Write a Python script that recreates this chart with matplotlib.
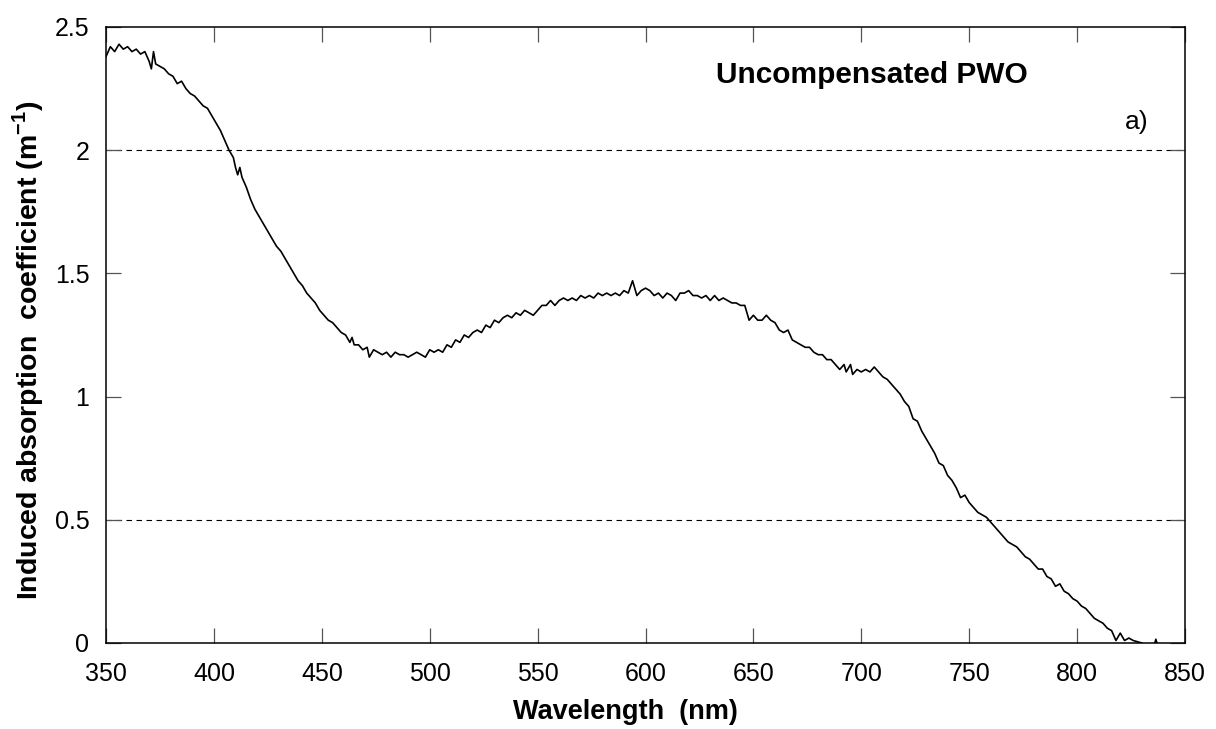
import matplotlib
matplotlib.use("Agg")
import matplotlib.pyplot as plt

# wavelength (nm) and induced absorption coefficient (1/m)
wavelength = [
    350, 352, 354, 356, 358, 360, 362, 364, 366, 368, 370, 371, 372, 373, 375, 377, 379,
    381, 383, 385, 387, 389, 391, 393, 395, 397, 399, 401, 403, 405, 407, 409, 410, 411,
    412, 413, 415, 417, 419, 421, 423, 425, 427, 429, 431, 433, 435, 437, 439, 441, 443,
    445, 447, 449, 451, 453, 455, 457, 459, 461, 463, 464, 465, 467, 469, 471, 472, 474,
    476, 478, 480, 482, 484, 486, 488, 490, 492, 494, 496, 498, 500, 502, 504, 506, 508,
    510, 512, 514, 516, 518, 520, 522, 524, 526, 528, 530, 532, 534, 536, 538, 540, 542,
    544, 546, 548, 550, 552, 554, 556, 558, 560, 562, 564, 566, 568, 570, 572, 574, 576,
    578, 580, 582, 584, 586, 588, 590, 592, 594, 596, 598, 600, 602, 604, 606, 608, 610,
    612, 614, 616, 618, 620, 622, 624, 626, 628, 630, 632, 634, 636, 638, 640, 642, 644,
    646, 648, 650, 652, 654, 656, 658, 660, 662, 664, 666, 668, 670, 672, 674, 676, 678,
    680, 682, 684, 686, 688, 690, 692, 693, 695, 696, 698, 700, 702, 704, 706, 708, 710,
    712, 714, 716, 718, 720, 722, 724, 726, 728, 730, 732, 734, 736, 738, 740, 742, 744,
    746, 748, 750, 752, 754, 756, 758, 760, 762, 764, 766, 768, 770, 772, 774, 776, 778,
    780, 782, 784, 786, 788, 790, 792, 794, 796, 798, 800, 802, 804, 806, 808, 810, 812,
    814, 816, 818, 820, 822, 824, 826, 828, 830,
]
absorption = [
    2.38, 2.42, 2.40, 2.43, 2.41, 2.42, 2.40, 2.41, 2.39, 2.40, 2.36, 2.33, 2.40, 2.35, 2.34, 2.33, 2.31,
    2.30, 2.27, 2.28, 2.25, 2.23, 2.22, 2.20, 2.18, 2.17, 2.14, 2.11, 2.08, 2.04, 2.00, 1.97, 1.93, 1.90,
    1.93, 1.89, 1.85, 1.80, 1.76, 1.73, 1.70, 1.67, 1.64, 1.61, 1.59, 1.56, 1.53, 1.50, 1.47, 1.45, 1.42,
    1.40, 1.38, 1.35, 1.33, 1.31, 1.30, 1.28, 1.26, 1.25, 1.22, 1.24, 1.21, 1.21, 1.19, 1.20, 1.16, 1.19,
    1.18, 1.17, 1.18, 1.16, 1.18, 1.17, 1.17, 1.16, 1.17, 1.18, 1.17, 1.16, 1.19, 1.18, 1.19, 1.18, 1.21,
    1.20, 1.23, 1.22, 1.25, 1.24, 1.26, 1.27, 1.26, 1.29, 1.28, 1.31, 1.30, 1.32, 1.33, 1.32, 1.34, 1.33,
    1.35, 1.34, 1.33, 1.35, 1.37, 1.37, 1.39, 1.37, 1.39, 1.40, 1.39, 1.40, 1.39, 1.41, 1.40, 1.41, 1.40,
    1.42, 1.41, 1.42, 1.41, 1.42, 1.41, 1.43, 1.42, 1.47, 1.41, 1.43, 1.44, 1.43, 1.41, 1.42, 1.40, 1.42,
    1.41, 1.39, 1.42, 1.42, 1.43, 1.41, 1.41, 1.40, 1.41, 1.39, 1.41, 1.39, 1.40, 1.39, 1.38, 1.38, 1.37,
    1.37, 1.31, 1.33, 1.31, 1.31, 1.33, 1.31, 1.30, 1.27, 1.26, 1.27, 1.23, 1.22, 1.21, 1.20, 1.20, 1.18,
    1.17, 1.17, 1.15, 1.15, 1.13, 1.11, 1.13, 1.10, 1.13, 1.09, 1.11, 1.10, 1.11, 1.10, 1.12, 1.10, 1.08,
    1.07, 1.05, 1.03, 1.01, 0.98, 0.96, 0.91, 0.90, 0.86, 0.83, 0.80, 0.77, 0.73, 0.72, 0.68, 0.66, 0.63,
    0.59, 0.60, 0.57, 0.55, 0.53, 0.52, 0.51, 0.49, 0.47, 0.45, 0.43, 0.41, 0.40, 0.39, 0.37, 0.35, 0.34,
    0.32, 0.30, 0.30, 0.27, 0.26, 0.23, 0.24, 0.21, 0.20, 0.18, 0.17, 0.15, 0.14, 0.12, 0.10, 0.09, 0.08,
    0.06, 0.05, 0.01, 0.04, 0.01, 0.02, 0.01, 0.005, 0.0,
]
# small isolated blip near 837 nm
blip_wl = [836, 836.5, 837]
blip_abs = [0.0, 0.015, 0.0]

xticks = [350, 400, 450, 500, 550, 600, 650, 700, 750, 800, 850]
yticks = [0, 0.5, 1, 1.5, 2, 2.5]
ytick_labels = ["0", "0.5", "1", "1.5", "2", "2.5"]
dashed_levels = [0.5, 2.0]

plt.rcParams["font.family"] = ["Liberation Sans", "DejaVu Sans"]
plt.rcParams["mathtext.fontset"] = "custom"
plt.rcParams["mathtext.rm"] = "Liberation Sans"
plt.rcParams["mathtext.bf"] = "Liberation Sans:bold"

fig = plt.figure(figsize=(12.16, 7.29), dpi=100)
ax = fig.add_axes([0.0872, 0.118, 0.8873, 0.845])

for lvl in dashed_levels:
    ax.axhline(lvl, color="k", lw=0.8, ls=(0, (5, 4)), zorder=1)
ax.plot(wavelength, absorption, color="k", lw=1.2, zorder=3)
ax.plot(blip_wl, blip_abs, color="k", lw=1.2, zorder=3)

ax.set_xlim(350, 850)
ax.set_ylim(0, 2.5)
ax.set_xticks(xticks)
ax.set_xticklabels([str(t) for t in xticks])
ax.set_yticks(yticks)
ax.set_yticklabels(ytick_labels)
ax.tick_params(direction="in", length=11, width=0.9, color="#555555",
               top=True, right=True, labelsize=18, pad=12)
ax.tick_params(axis="x", pad=14)
for s in ax.spines.values():
    s.set_linewidth(1.1)

ax.set_xlabel("Wavelength  (nm)", fontsize=19.5, fontweight="bold", va="center")
ax.set_ylabel(r"Induced absorption  coefficient (m$^{\mathbf{-1}}$)",
              fontsize=20.5, fontweight="bold", va="center")
ax.xaxis.set_label_coords(0.481, -0.112)
ax.yaxis.set_label_coords(-0.072, 0.476)

ax.text(0.71, 0.922, "Uncompensated PWO", transform=ax.transAxes,
        fontsize=21.5, fontweight="bold", ha="center", va="center")
ax.text(0.966, 0.845, "a)", transform=ax.transAxes,
        fontsize=19, ha="right", va="center")

fig.savefig("out.png", dpi=100)
